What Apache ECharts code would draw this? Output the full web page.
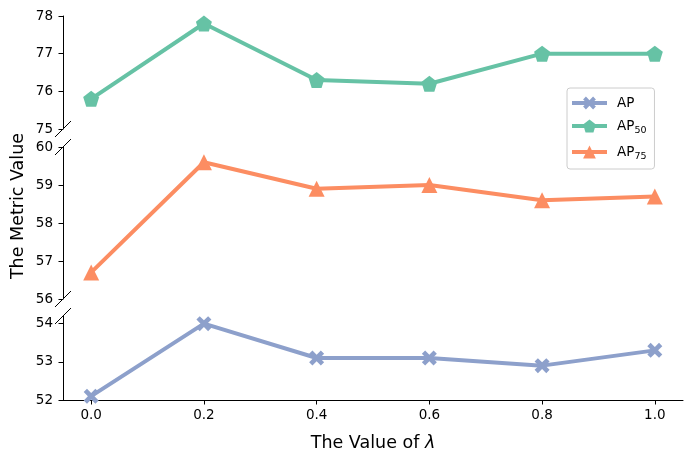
<!DOCTYPE html>
<html><head><meta charset="utf-8">
<script src="https://cdn.jsdelivr.net/npm/echarts@6/dist/echarts.min.js"></script>
<style>html,body{margin:0;padding:0;background:#fff}#c{width:692px;height:463px}</style>
</head><body><div id="c"></div>
<script>
// ---- data ----
const lambdas = [0.0, 0.2, 0.4, 0.6, 0.8, 1.0];
const apValues = [52.1, 54.0, 53.1, 53.1, 52.9, 53.3];
const ap50Values = [75.8, 77.8, 76.3, 76.2, 77.0, 77.0];
const ap75Values = [56.7, 59.6, 58.9, 59.0, 58.6, 58.7];
const xTickValues = [0.0, 0.2, 0.4, 0.6, 0.8, 1.0];
const topTicks = [75, 76, 77, 78];
const midTicks = [56, 57, 58, 59, 60];
const botTicks = [52, 53, 54];

// ---- layout ----
const FONT = '"DejaVu Sans", sans-serif';
const L = 63, R = 9;
const panels = [
  {top: 16, height: 113, min: 75, max: 78, ticks: topTicks},
  {top: 147, height: 152, min: 56, max: 60, ticks: midTicks},
  {top: 316, height: 84, min: 52, max: 54.2, ticks: botTicks}
];
const colors = {AP: '#8da0cb', AP50: '#66c2a5', AP75: '#fc8d62'};
const xSym = 'path://M0,22 L22,0 L50,28 L78,0 L100,22 L72,50 L100,78 L78,100 L50,72 L22,100 L0,78 L28,50 Z';
const pentSym = 'path://M50,0 L97.6,34.5 L79.4,90.5 L20.6,90.5 L2.4,34.5 Z';

const pairs = vals => lambdas.map((x, i) => [x, vals[i]]);

const chart = echarts.init(document.getElementById('c'), null, {renderer: 'canvas'});

const grids = panels.map(p => ({left: L, right: R, top: p.top, height: p.height, containLabel: false}));
const xAxes = panels.map((p, i) => ({
  type: 'value', gridIndex: i, min: -0.05, max: 1.05,
  show: i === 2,
  axisLine: {show: true, onZero: false, lineStyle: {color: '#000', width: 1}},
  axisTick: {show: true, length: 4.5, lineStyle: {color: '#000'}, customValues: xTickValues},
  axisLabel: {show: true, customValues: xTickValues, formatter: v => v.toFixed(1),
    color: '#000', fontFamily: FONT, fontSize: 13.5, margin: 8},
  splitLine: {show: false},
  name: i === 2 ? 'The Value of {i|λ}' : '',
  nameLocation: 'middle', nameGap: 34,
  nameTextStyle: {color: '#000', fontFamily: FONT, fontSize: 17.5,
    rich: {i: {fontStyle: 'italic', fontFamily: FONT, fontSize: 17.5, color: '#000'}}}
}));
const yAxes = panels.map((p, i) => ({
  type: 'value', gridIndex: i, min: p.min, max: p.max,
  axisLine: {show: true, onZero: false, lineStyle: {color: '#000', width: 1}},
  axisTick: {show: true, length: 4.5, lineStyle: {color: '#000'}, customValues: p.ticks},
  axisLabel: {show: true, customValues: p.ticks, color: '#000', fontFamily: FONT, fontSize: 13.5, margin: 10},
  splitLine: {show: false}
}));

function mkSeries(name, vals, gi, symbol, size) {
  return {
    name, type: 'line', xAxisIndex: gi, yAxisIndex: gi, data: pairs(vals),
    symbol, symbolSize: size, showAllSymbol: true, clip: false,
    lineStyle: {color: colors[name], width: 4},
    itemStyle: {color: colors[name], borderWidth: 0},
    emphasis: {disabled: true}, animation: false, z: 3
  };
}

const breakLines = [];
panels.forEach((p, i) => {
  if (i > 0) breakLines.push(p.top);
  if (i < 2) breakLines.push(p.top + p.height);
});

chart.setOption({
  animation: false,
  grid: grids,
  xAxis: xAxes,
  yAxis: yAxes,
  legend: {
    data: ['AP', 'AP50', 'AP75'],
    orient: 'vertical', left: 567, top: 88,
    padding: [8, 8, 7, 3],
    itemWidth: 35, itemHeight: 16, itemGap: 9,
    borderColor: '#cccccc', borderWidth: 1, borderRadius: 3,
    backgroundColor: 'rgba(255,255,255,0.8)',
    lineStyle: {width: 4},
    formatter: n => n === 'AP' ? '{n|AP}' : '{n|AP}{s|' + n.slice(2) + '}',
    textStyle: {color: '#000', fontFamily: FONT, fontSize: 13.5, padding: [0, 0, 0, 5],
      rich: {n: {fontSize: 13.5, fontFamily: FONT, color: '#000', lineHeight: 20, verticalAlign: 'middle'},
             s: {fontSize: 9.5, fontFamily: FONT, color: '#000', lineHeight: 20, verticalAlign: 'bottom'}}}
  },
  graphic: [
    {type: 'text', x: 18, y: 206, rotation: Math.PI / 2,
      style: {text: 'The Metric Value', fill: '#000', font: '17.5px ' + FONT, align: 'center', verticalAlign: 'middle'}}
  ].concat(breakLines.map(y => ({
    type: 'line', shape: {x1: L - 8, y1: y + 8, x2: L + 8, y2: y - 8},
    style: {stroke: '#000', lineWidth: 1}, z: 10
  }))),
  series: [
    mkSeries('AP', apValues, 2, xSym, 15),
    mkSeries('AP50', ap50Values, 0, pentSym, 16),
    mkSeries('AP75', ap75Values, 1, 'triangle', 16)
  ]
});
</script></body></html>
